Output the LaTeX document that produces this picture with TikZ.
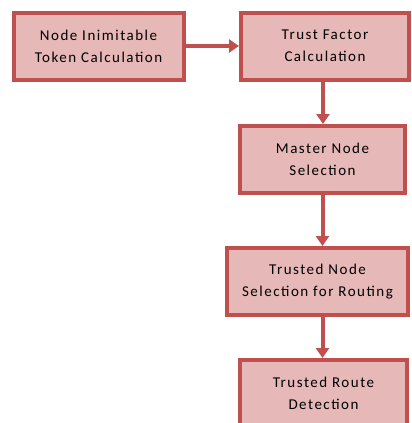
\documentclass[tikz,border=0pt]{standalone}
\usepackage{fontspec}
\setmainfont[LetterSpace=10]{Carlito}
\usetikzlibrary{arrows.meta}
\definecolor{bord}{HTML}{C0504D}
\definecolor{fillc}{HTML}{E6B8B7}
\begin{document}
\begin{tikzpicture}[x=1pt,y=-1pt,
  box/.style={draw=bord,fill=fillc,line width=4pt,inner sep=0pt,align=center,font=\fontsize{15}{22}\selectfont},
  conn/.style={draw=bord,line width=4pt,-{Triangle[length=10pt,width=13pt]}}]
\useasboundingbox (0,0) rectangle (412,423);
\clip (0,0) rectangle (412,423);
\node[box,minimum width=170pt,minimum height=67pt] (a) at (98.5,46) {Node Inimitable\\Token Calculation};
\node[box,minimum width=168pt,minimum height=67pt] (b) at (325,46) {Trust Factor\\Calculation};
\node[box,minimum width=165pt,minimum height=67pt] (c) at (322.5,159.5) {Master Node\\Selection};
\node[box,minimum width=181pt,minimum height=67pt] (d) at (317.5,281.5) {Trusted Node\\Selection for Routing};
\node[box,minimum width=167pt,minimum height=67pt] (e) at (323.5,393.5) {Trusted Route\\Detection};
\coordinate (b1) at ([xshift=-2pt]b.south);
\draw[conn] (a.east) -- (b.west);
\draw[conn] (b1) -- (b1 |- c.north);
\draw[conn] (c.south) -- (c.south |- d.north);
\draw[conn] (c.south |- d.south) -- (c.south |- e.north);
\end{tikzpicture}
\end{document}
